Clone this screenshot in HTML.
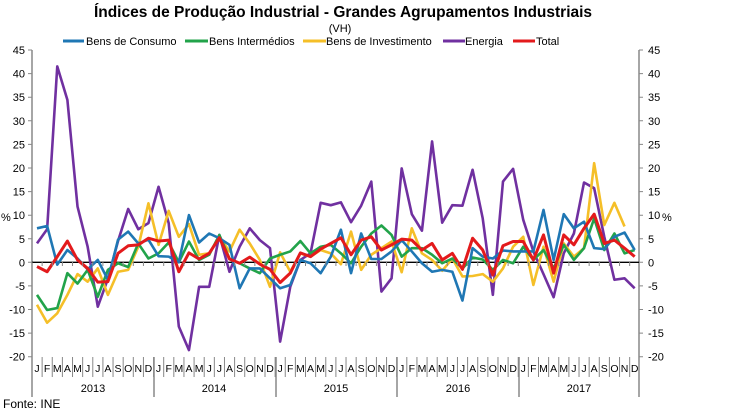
<!DOCTYPE html>
<html><head><meta charset="utf-8"><style>
body{margin:0;background:#fff;}
svg{display:block;font-family:"Liberation Sans",sans-serif;}
</style></head><body>
<svg width="750" height="415" viewBox="0 0 750 415" xmlns="http://www.w3.org/2000/svg">
<rect width="750" height="415" fill="#fff"/>
<text x="343" y="17" font-size="15.5" font-weight="bold" text-anchor="middle">Índices de Produção Industrial - Grandes Agrupamentos Industriais</text>
<text x="340" y="32" font-size="11" text-anchor="middle">(VH)</text>
<g font-size="11">
<line x1="63" y1="41" x2="84" y2="41" stroke="#1f77b4" stroke-width="3"/><text x="86" y="45">Bens de Consumo</text>
<line x1="185" y1="41" x2="208" y2="41" stroke="#22a34a" stroke-width="3"/><text x="209" y="45">Bens Intermédios</text>
<line x1="303" y1="41" x2="326" y2="41" stroke="#f5bf28" stroke-width="3"/><text x="326" y="45">Bens de Investimento</text>
<line x1="443" y1="41" x2="465" y2="41" stroke="#7030a0" stroke-width="3"/><text x="465" y="45">Energia</text>
<line x1="513" y1="41" x2="535" y2="41" stroke="#e31a1c" stroke-width="3"/><text x="536" y="45">Total</text>
</g>
<!-- axes -->
<g stroke="#888" stroke-width="1.5">
<line x1="32" y1="50" x2="32" y2="397"/>
<line x1="639" y1="50" x2="639" y2="397"/>
<line x1="154" y1="357" x2="154" y2="397"/>
<line x1="276" y1="357" x2="276" y2="397"/>
<line x1="397" y1="357" x2="397" y2="397"/>
<line x1="519" y1="357" x2="519" y2="397"/>
</g>
<g stroke="#888" stroke-width="1">
<path d="M28 50H32M28 73.6H32M28 97.2H32M28 120.8H32M28 144.4H32M28 168H32M28 191.6H32M28 215.2H32M28 238.8H32M28 262.3H32M28 285.9H32M28 309.5H32M28 333.1H32M28 356.7H32"/>
<path d="M639 50H643M639 73.6H643M639 97.2H643M639 120.8H643M639 144.4H643M639 168H643M639 191.6H643M639 215.2H643M639 238.8H643M639 262.3H643M639 285.9H643M639 309.5H643M639 333.1H643M639 356.7H643"/>
</g>
<g font-size="11" text-anchor="end">
<text x="25" y="54">45</text><text x="25" y="77.6">40</text><text x="25" y="101.2">35</text><text x="25" y="124.8">30</text><text x="25" y="148.4">25</text><text x="25" y="172">20</text><text x="25" y="195.6">15</text><text x="25" y="219.2">10</text><text x="25" y="242.8">5</text><text x="25" y="266.3">0</text><text x="25" y="289.9">-5</text><text x="25" y="313.5">-10</text><text x="25" y="337.1">-15</text><text x="25" y="360.7">-20</text>
</g>
<g font-size="11">
<text x="648" y="54">45</text><text x="648" y="77.6">40</text><text x="648" y="101.2">35</text><text x="648" y="124.8">30</text><text x="648" y="148.4">25</text><text x="648" y="172">20</text><text x="648" y="195.6">15</text><text x="648" y="219.2">10</text><text x="648" y="242.8">5</text><text x="648" y="266.3">0</text><text x="648" y="289.9">-5</text><text x="648" y="313.5">-10</text><text x="648" y="337.1">-15</text><text x="648" y="360.7">-20</text>
<text x="1" y="221">%</text><text x="662" y="221">%</text>
</g>
<line x1="32" y1="262.3" x2="639" y2="262.3" stroke="#000" stroke-width="1.3"/>
<g id="months" font-size="10.5" text-anchor="middle"></g>
<g font-size="11" text-anchor="middle">
<text x="93" y="392">2013</text><text x="214" y="392">2014</text><text x="336" y="392">2015</text><text x="458" y="392">2016</text><text x="579" y="392">2017</text>
</g>
<text x="3" y="408" font-size="12">Fonte: INE</text>
<g transform="translate(37,262.3) scale(10.13,-4.72)" fill="none" stroke-width="2.6" stroke-linejoin="round">
<polyline vector-effect="non-scaling-stroke" stroke="#7030a0" points="0,4 1,7 2,41.5 3,34.4 4,11.8 5,3.3 6,-9.4 7,-3.5 8,4.5 9,11.3 10,7 11,8.3 12,16 13,8.3 14,-13.6 15,-18.6 16,-5.2 17,-5.2 18,5.8 19,-2 20,3.3 21,7.2 22,4.7 23,3 24,-16.8 25,-5.2 26,0.5 27,1.9 28,12.6 29,12.1 30,12.7 31,8.5 32,12 33,17.1 34,-6.2 35,-3.4 36,19.9 37,10.2 38,6.7 39,25.6 40,8.4 41,12.1 42,12 43,19.6 44,9.3 45,-6.9 46,17.1 47,19.8 48,9 49,2.3 50,-2.5 51,-7.4 52,1.9 53,6.1 54,16.9 55,15.7 56,5.4 57,-3.7 58,-3.4 59,-5.5"/>
<polyline vector-effect="non-scaling-stroke" stroke="#f5bf28" points="0,-9 1,-12.8 2,-10.8 3,-6.9 4,-2.5 5,-4.1 6,-1.3 7,-6.9 8,-2 9,-1.6 10,3.3 11,12.5 12,3.7 13,10.9 14,5.4 15,8.1 16,1.6 17,1.9 18,5.4 19,2.3 20,6.9 21,4 22,0.5 23,-5.2 24,2.1 25,-2 26,1.9 27,1.2 28,2.6 29,1.9 30,-0.4 31,6.5 32,-1.6 33,1.6 34,3 35,4.4 36,-2.1 37,7.2 38,1.9 39,0.5 40,-1.8 41,0.8 42,-3 43,-2.9 44,-2.5 45,-4.1 46,-1.3 47,3.3 48,5.4 49,-4.8 50,3.3 51,-4.1 52,4 53,1.2 54,3 55,21 56,7.9 57,12.6 58,7.6"/>
<polyline vector-effect="non-scaling-stroke" stroke="#22a34a" points="0,-6.9 1,-10.1 2,-9.7 3,-2.3 4,-4.5 5,-1.6 6,-7.3 7,-1.6 8,-0.2 9,-1 10,4 11,0.8 12,1.9 13,4.2 14,0 15,4.4 16,0.5 17,1.6 18,5.8 19,0.8 20,-0.2 21,-1.3 22,-2.3 23,0.8 24,1.6 25,2.3 26,4.5 27,1.9 28,3.3 29,3.7 30,1.9 31,-0.2 32,3.3 33,6.1 34,7.8 35,5.8 36,1.2 37,3 38,3 39,1.6 40,-0.2 41,0.8 42,-1.3 43,1 44,0.6 45,-1.6 46,0.5 47,-0.2 48,3.3 49,0.5 50,2.6 51,-1.3 52,3.7 53,0.5 54,3 55,9.3 56,2.6 57,6.1 58,1.9 59,2.6"/>
<polyline vector-effect="non-scaling-stroke" stroke="#1f77b4" points="0,7.2 1,7.7 2,-0.5 3,2.6 4,0.8 5,-1.5 6,0.5 7,-3.7 8,4.8 9,6.5 10,4 11,4.8 12,1.3 13,1.2 14,0 15,10 16,4.2 17,6.1 18,5.1 19,3.7 20,-5.5 21,-1.3 22,-1.3 23,-3.4 24,-5.5 25,-4.8 26,0.5 27,-0.2 28,-2.3 29,1.2 30,6.9 31,-2.3 32,6.1 33,0.7 34,0.7 35,2.3 36,4.7 37,2.3 38,-0.2 39,-2 40,-1.6 41,-2 42,-8.1 43,3 44,1.2 45,0.8 46,2.5 47,2.3 48,2.3 49,2.3 50,11.1 51,0.5 52,10.2 53,7.2 54,8.6 55,3 56,2.8 57,5.4 58,6.3 59,2.6"/>
<polyline vector-effect="non-scaling-stroke" stroke="#e31a1c" stroke-width="3" points="0,-0.9 1,-2 2,1.2 3,4.5 4,0.5 5,-1.3 6,-4.2 7,-4.1 8,1.9 9,3.5 10,3.7 11,5.1 12,4.5 13,4.7 14,-2 15,2 16,0.7 17,1.9 18,5.2 19,0.7 20,-0.2 21,1.1 22,-0.4 23,-1.5 24,-4.3 25,-2.3 26,2 27,1.2 28,2.8 29,4 30,5.2 31,1.6 32,4.7 33,5.4 34,2.6 35,3.7 36,4.9 37,4.7 38,2.6 39,4 40,0.5 41,1.9 42,-1.5 43,5.1 44,2.6 45,-2.7 46,3.5 47,4.4 48,4.4 49,0.5 50,5.8 51,-2.3 52,5.8 53,3.7 54,7.2 55,10.2 56,4 57,4.7 58,3 59,1.2"/>
</g>
<g stroke="#888" stroke-width="1" id="sep"></g>
<script>
var m="JFMAMJJASOND",g=document.getElementById('months'),s=document.getElementById('sep'),ns="http://www.w3.org/2000/svg";
for(var i=0;i<60;i++){var t=document.createElementNS(ns,'text');t.setAttribute('x',37+10.13*i);t.setAttribute('y',372);t.textContent=m[i%12];g.appendChild(t);
var l=document.createElementNS(ns,'line');var x=32+10.13*i;l.setAttribute('x1',x);l.setAttribute('x2',x);l.setAttribute('y1',357);l.setAttribute('y2',377);s.appendChild(l);
var k=document.createElementNS(ns,'line');k.setAttribute('x1',x);k.setAttribute('x2',x);k.setAttribute('y1',262);k.setAttribute('y2',266);s.appendChild(k);}
</script>
</svg>
</body></html>
